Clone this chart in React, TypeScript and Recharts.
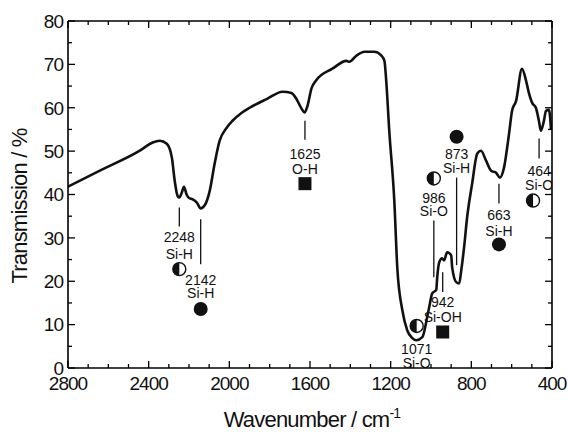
import React from 'react';
import { ComposedChart, Line, XAxis, YAxis, Scatter, ReferenceLine, Customized } from 'recharts';

// ---- spectrum (wavenumber in cm^-1, transmission in %) ----
const wavenumbers = [
  2800, 2642, 2444, 2380, 2345, 2310, 2285, 2271, 2256, 2248, 2236, 2225, 2212, 2200, 2182, 2162, 2142, 2122,
  2097, 2073, 2048, 2013, 1984, 1940, 1899, 1815, 1736, 1692, 1667, 1642, 1627, 1612, 1593, 1568, 1489,
  1420, 1405, 1370, 1330, 1281, 1246, 1231, 1222, 1207, 1182, 1167, 1142, 1118, 1095, 1073, 1043, 1019,
  1009, 994, 974, 969, 959, 945, 935, 920, 900, 895, 875, 860, 850, 836, 821, 796, 771, 752, 727, 702,
  677, 658, 638, 613, 598, 578, 549, 530, 515, 497, 480, 465, 455, 440, 430, 415, 405,
];
const transmission = [
  41.8, 45.5, 50.1, 52.0, 52.4, 51.7, 48.5, 43.2, 39.6, 39.3, 40.4, 41.8, 40.0, 39.2, 38.9, 38.2, 36.8, 37.5,
  40.9, 47.1, 52.4, 55.4, 57.0, 58.8, 60.0, 62.0, 63.7, 63.4, 62.0, 59.8, 58.9, 60.5, 64.4, 66.4, 69.0,
  70.8, 70.6, 72.0, 72.9, 72.9, 72.0, 70.8, 66.2, 54.7, 38.6, 23.0, 13.3, 8.7, 7.0, 6.4, 7.1, 11.7,
  14.0, 17.2, 18.0, 21.0, 24.4, 25.3, 24.8, 26.7, 26.0, 23.2, 19.8, 19.5, 22.5, 27.8, 34.7, 42.5, 49.4, 50.1, 47.8, 45.5,
  45.0, 43.9, 46.2, 54.0, 59.3, 61.6, 69.0, 66.5, 63.5, 61.0, 60.0, 57.0, 54.7, 57.0, 59.3, 59.5, 55.0,
];

// ---- axes ----
const xDomain = [400, 2800];
const yDomain = [0, 80];
const xTicks = [2800, 2700, 2600, 2500, 2400, 2300, 2200, 2100, 2000, 1900, 1800, 1700, 1600, 1500, 1400, 1300, 1200, 1100, 1000, 900, 800, 700, 600, 500, 400];
const xLabelTicks = [2800, 2400, 2000, 1600, 1200, 800, 400];
const yTicks = [0, 5, 10, 15, 20, 25, 30, 35, 40, 45, 50, 55, 60, 65, 70, 75, 80];
const yLabelTicks = [0, 10, 20, 30, 40, 50, 60, 70, 80];

// ---- band assignments ----
const peakWn = [2248, 2142, 1625, 986, 942, 873, 663, 464, 1071];
const peakGroup = ['Si-H', 'Si-H', 'O-H', 'Si-O', 'Si-OH', 'Si-H', 'Si-H', 'Si-O', 'Si-O'];
const peakMarker = ['half', 'full', 'square', 'half', 'square', 'full', 'full', 'half', 'half'];
const lineTop = [37.0, 34.3, 57.0, 34.0, 22.1, 43.9, 42.5, 52.9, null];
const lineBottom = [32.6, 23.9, 52.6, 20.9, 17.5, 23.7, 37.9, 48.3, null];
const labelNumT = [30.1, 20.2, 49.4, 39.3, 15.2, 49.4, 35.2, 45.5, 4.4];
const labelGroupT = [26.4, 17.2, 46.0, 36.3, 11.7, 46.2, 31.7, 42.3, 1.1];
const markerWn = [2248, 2142, 1625, 986, 942, 873, 663, 494, 1071];
const markerT = [22.8, 13.6, 42.5, 43.7, 8.3, 53.3, 28.5, 38.6, 9.7];

const spectrum = wavenumbers.map((wn, i) => ({ wn, t: transmission[i] }));
const labelData = peakWn.flatMap((wn, i) => [
  { wn, t: labelNumT[i], text: String(wn) },
  { wn, t: labelGroupT[i], text: peakGroup[i] },
]);
const markerData = markerWn.map((wn, i) => ({ wn, t: markerT[i], kind: peakMarker[i] }));

const FONT = '"Liberation Sans", Arial, Helvetica, sans-serif';
const W = 568;
const H = 435;
const M = { top: 20, right: 15, bottom: 7, left: 8 };

const BottomTick = (props: any) => {
  const { x, y, payload } = props;
  const v = payload.value;
  const major = xLabelTicks.includes(v);
  return (
    <g>
      <line x1={x} x2={x} y1={y} y2={y - (major ? 7 : 4)} stroke="#000" strokeWidth={1.3} />
      {major && (
        <text x={x} y={y + 22} textAnchor="middle" fontFamily={FONT} fontSize={19} letterSpacing={-1} fill="#111">
          {v}
        </text>
      )}
    </g>
  );
};

const TopTick = (props: any) => {
  const { x, y, payload } = props;
  const major = xLabelTicks.includes(payload.value);
  return <line x1={x} x2={x} y1={y} y2={y + (major ? 7 : 4)} stroke="#000" strokeWidth={1.3} />;
};

const LeftTick = (props: any) => {
  const { x, y, payload } = props;
  const v = payload.value;
  const major = yLabelTicks.includes(v);
  return (
    <g>
      <line x1={x} x2={x + (major ? 7 : 4)} y1={y} y2={y} stroke="#000" strokeWidth={1.3} />
      {major && (
        <text x={x - 5} y={y} dy="0.36em" textAnchor="end" fontFamily={FONT} fontSize={19} letterSpacing={-1} fill="#111">
          {v}
        </text>
      )}
    </g>
  );
};

const RightTick = (props: any) => {
  const { x, y, payload } = props;
  const major = yLabelTicks.includes(payload.value);
  return <line x1={x} x2={x - (major ? 7 : 4)} y1={y} y2={y} stroke="#000" strokeWidth={1.3} />;
};

const LabelShape = (props: any) => {
  const { cx, cy, payload } = props;
  return (
    <text x={cx} y={cy} dy="0.36em" textAnchor="middle" fontFamily={FONT} fontSize={14} fill="#111">
      {payload.text}
    </text>
  );
};

const MarkerShape = (props: any) => {
  const { cx, cy, payload } = props;
  if (payload.kind === 'square') {
    return <rect x={cx - 6.5} y={cy - 6.5} width={13} height={13} fill="#111" />;
  }
  if (payload.kind === 'full') {
    return <circle cx={cx} cy={cy} r={7} fill="#111" />;
  }
  const r = 6.5;
  return (
    <g>
      <circle cx={cx} cy={cy} r={r} fill="#fff" stroke="#111" strokeWidth={1.4} />
      <path d={`M ${cx} ${cy - r} A ${r} ${r} 0 0 0 ${cx} ${cy + r} Z`} fill="#111" />
    </g>
  );
};

const Titles = () => (
  <g>
    <text x={312} y={427} textAnchor="middle" fontFamily={FONT} fontSize={22} letterSpacing={-0.8} fill="#111">
      Wavenumber / cm<tspan dy={-9} fontSize={14}>-1</tspan>
    </text>
    <text
      x={0}
      y={0}
      transform="translate(27,206) rotate(-90)"
      textAnchor="middle"
      fontFamily={FONT}
      fontSize={22}
      letterSpacing={-0.8}
      fill="#111"
    >
      Transmission / %
    </text>
  </g>
);

export default function App() {
  return (
    <div style={{ position: 'absolute', left: 0, top: 0, width: W, height: H, background: '#fff' }}>
      <ComposedChart width={W} height={H} data={spectrum} margin={M}>
        <XAxis
          xAxisId="b"
          dataKey="wn"
          type="number"
          domain={xDomain}
          reversed
          ticks={xTicks}
          interval={0}
          tickSize={0}
          tickMargin={0}
          tickLine={false}
          tick={<BottomTick />}
          axisLine={{ stroke: '#000', strokeWidth: 1.6 }}
          height={60}
          allowDataOverflow
        />
        <XAxis
          xAxisId="t"
          orientation="top"
          dataKey="wn"
          type="number"
          domain={xDomain}
          reversed
          ticks={xTicks}
          interval={0}
          tickSize={0}
          tickMargin={0}
          tickLine={false}
          tick={<TopTick />}
          axisLine={{ stroke: '#000', strokeWidth: 1.6 }}
          height={1}
          allowDataOverflow
        />
        <YAxis
          yAxisId="l"
          type="number"
          domain={yDomain}
          ticks={yTicks}
          interval={0}
          tickSize={0}
          tickMargin={0}
          tickLine={false}
          tick={<LeftTick />}
          axisLine={{ stroke: '#000', strokeWidth: 1.6 }}
          width={60}
          allowDataOverflow
        />
        <YAxis
          yAxisId="r"
          orientation="right"
          type="number"
          domain={yDomain}
          ticks={yTicks}
          interval={0}
          tickSize={0}
          tickMargin={0}
          tickLine={false}
          tick={<RightTick />}
          axisLine={{ stroke: '#000', strokeWidth: 1.6 }}
          width={1}
          allowDataOverflow
        />
        {peakWn.map((wn, i) =>
          lineTop[i] != null ? (
            <ReferenceLine
              key={`pl-${i}`}
              xAxisId="b"
              yAxisId="l"
              segment={[
                { x: wn, y: lineTop[i] as number },
                { x: wn, y: lineBottom[i] as number },
              ]}
              stroke="#111"
              strokeWidth={1.3}
            />
          ) : null
        )}
        <Line
          xAxisId="b"
          yAxisId="l"
          dataKey="t"
          type="monotone"
          stroke="#111"
          strokeWidth={2.6}
          dot={false}
          isAnimationActive={false}
        />
        <Scatter
          xAxisId="b"
          yAxisId="l"
          data={labelData}
          dataKey="t"
          shape={<LabelShape />}
          isAnimationActive={false}
        />
        <Scatter
          xAxisId="b"
          yAxisId="l"
          data={markerData}
          dataKey="t"
          shape={<MarkerShape />}
          isAnimationActive={false}
        />
        <Customized component={<Titles />} />
      </ComposedChart>
    </div>
  );
}
